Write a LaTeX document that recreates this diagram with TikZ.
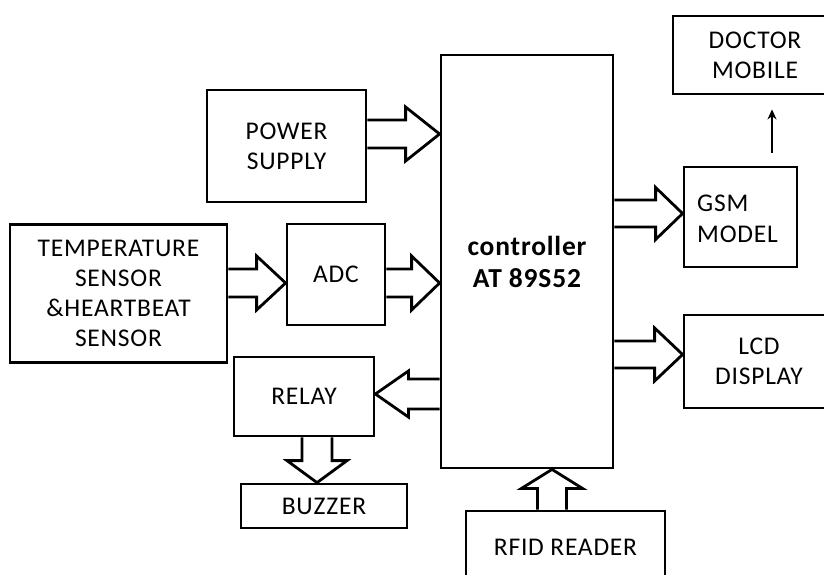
\documentclass[tikz,border=0pt]{standalone}
\usepackage{fontspec}
\setmainfont{Carlito}[LetterSpace=3]
\usetikzlibrary{calc,arrows.meta}
\tikzset{
  box/.style={draw, line width=2.8pt, inner sep=0pt, align=center,
    font=\fontsize{25.5}{30}\selectfont},
  fat/.style n args={3}{line width=2.8pt, line join=miter, to path={
    let \p1=($(\tikztotarget)!#3!(\tikztostart)$) in
    ($(\tikztostart)!#1!90:(\tikztotarget)$) -- ($(\p1)!#1!-90:(\tikztostart)$)
    -- ($(\p1)!#2!-90:(\tikztostart)$) -- (\tikztotarget)
    -- ($(\p1)!#2!90:(\tikztostart)$) -- ($(\p1)!#1!90:(\tikztostart)$)
    -- ($(\tikztostart)!#1!-90:(\tikztotarget)$)}},
  thin/.style={line width=1.8pt, -{Stealth[length=10pt,width=9pt]}}
}
\begin{document}
\begin{tikzpicture}[x=1pt,y=-1pt]
\path[use as bounding box, clip] (0,0) rectangle (824,574);
\fill[white] (0,0) rectangle (824,574);
% boxes
\node[box, minimum width=159pt, minimum height=112pt] (ps) at (286.5,146) {POWER\\SUPPLY};
\node[box, minimum width=172pt, minimum height=413pt,
  font=\fontsize{27.5}{32}\selectfont\bfseries] (ctrl) at (527,261.5) {controller\\AT 89S52};
\node[box, minimum width=217pt, minimum height=138pt] (temp) at (118.5,293.5) {TEMPERATURE\\SENSOR\\\&HEARTBEAT\\SENSOR};
\node[box, minimum width=98pt, minimum height=101pt] (adc) at (336,274.5) {ADC};
\node[box, minimum width=140pt, minimum height=79pt] (relay) at (304,396.5) {RELAY};
\node[box, minimum width=166pt, minimum height=44pt] (buzzer) at (324,506) {BUZZER};
\node[box, minimum width=199pt, minimum height=72pt] (rfid) at (565.5,547) {RFID READER};
\node[box, minimum width=113pt, minimum height=100pt] (gsm) at (740.5,217) {};
\node[anchor=west, align=left, inner sep=0pt, font=\fontsize{25.5}{31}\selectfont] (gsmt) at (697,218.5) {GSM\\MODEL};
\node[box, minimum width=164pt, minimum height=78pt] (doc) at (755,55) {DOCTOR\\MOBILE};
\node[box, minimum width=150pt, minimum height=93pt] (lcd) at (759,361.5) {LCD\\DISPLAY};
% arrow anchor coordinates
\coordinate (p1) at ([yshift=12pt]ps.east);
\coordinate (t1) at ([yshift=-8.5pt]adc.west);
\coordinate (r1) at ([yshift=2.5pt]relay.east);
\coordinate (b1) at ([xshift=13pt]relay.south);
\coordinate (f1) at ([xshift=-13.5pt]rfid.north);
\coordinate (g1) at ([yshift=3.5pt]gsm.west);
\coordinate (l1) at ([yshift=7pt]lcd.west);
\coordinate (m1) at ([xshift=31.5pt]gsm.north);
% fat arrows
\draw[fat={14pt}{27pt}{34pt}] (p1) to (p1 -| ctrl.west);
\draw[fat={14pt}{27pt}{29pt}] (t1 -| temp.east) to (t1);
\draw[fat={14pt}{27pt}{28pt}] (t1 -| adc.east) to (t1 -| ctrl.west);
\draw[fat={15pt}{23pt}{33pt}] (r1 -| ctrl.west) to (r1);
\draw[fat={15pt}{30pt}{22pt}] (b1) to (b1 |- buzzer.north);
\draw[fat={14.5pt}{30.5pt}{19pt}] (f1) to (f1 |- ctrl.south);
\draw[fat={13.5pt}{26pt}{27pt}] (g1 -| ctrl.east) to (g1);
\draw[fat={13.5pt}{26.5pt}{28pt}] (l1 -| ctrl.east) to (l1);
% thin arrow
\draw[thin, shorten <=13pt, shorten >=14pt] (m1) to (m1 |- doc.south);
\end{tikzpicture}
\end{document}
